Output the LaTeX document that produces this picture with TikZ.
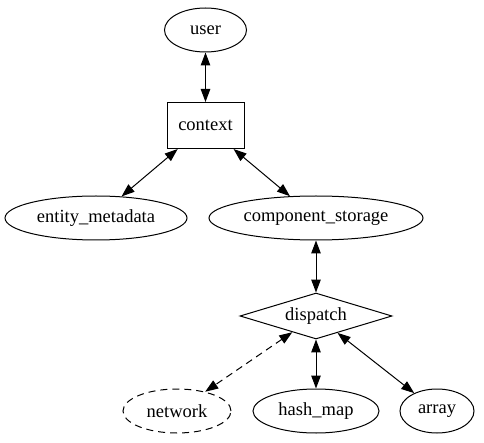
\documentclass[tikz,border=0pt]{standalone}
\usepackage{fontspec}
\setmainfont{Liberation Serif}
\usetikzlibrary{shapes.geometric,arrows.meta}
\tikzset{
    oval/.style = {draw, ellipse, inner sep=0pt, minimum height=44pt, line width=1pt},
    box/.style = {draw, rectangle, inner sep=0pt, minimum width=77pt, minimum height=46pt, line width=1pt},
    rhomb/.style = {draw, diamond, inner sep=0pt, aspect=3.3, minimum width=152pt, minimum height=46pt, line width=1pt},
    dashline/.style = {dash pattern=on 7pt off 5pt},
    link/.style = {black, line width=1pt, {Triangle[length=13pt,width=9.5pt]}-{Triangle[length=13pt,width=9.5pt]}}
}
\begin{document}
\begin{tikzpicture}[x=1pt, y=-1pt, font=\fontsize{18.5}{21}\selectfont]
        \useasboundingbox (0,0) rectangle (484,443);

        \node[oval, minimum width=82pt] (user) at (205.5,30) {user};
        \node[box] (context) at (205.5,125.5) {context};
        \node[oval, minimum width=182pt] (entity) at (96,218) {entity\_metadata};
        \node[oval, minimum width=214pt] (storage) at (316,218) {component\_storage};
        \node[rhomb] (dispatch) at (316,316) {dispatch};
        \node[oval, dashline, minimum width=108pt] (network) at (177,411) {network};
        \node[oval, minimum width=126pt] (hashmap) at (316,411) {hash\_map};
        \node[oval, minimum width=74pt] (array) at (437,411) {array};

        \draw[link] (user) -- (context);
        \draw[link] (context) -- (entity);
        \draw[link] (context) -- (storage);
        \draw[link] (storage) -- (dispatch);
        \draw[link, dashline] (dispatch) -- (network);
        \draw[link] (dispatch) -- (hashmap);
        \draw[link] (dispatch) -- (array);
    \end{tikzpicture}
\end{document}
